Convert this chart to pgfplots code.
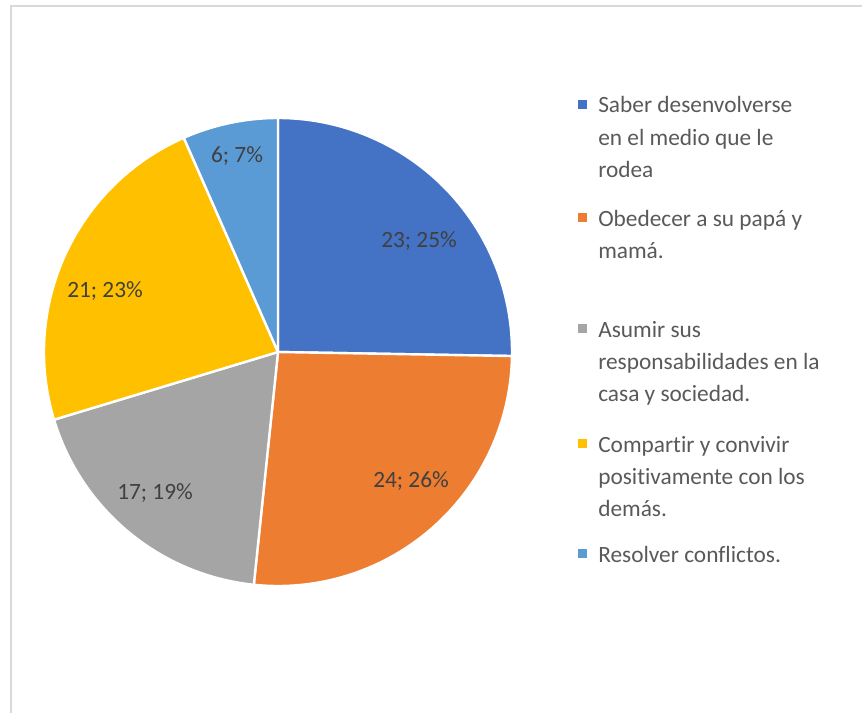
\documentclass[border=0pt]{standalone}
\usepackage{pgfplots}
\pgfplotsset{compat=1.18}
\usepackage{fontspec}
\setmainfont{Carlito}[Ligatures={NoCommon}]
\definecolor{cBlue}{HTML}{4472C4}
\definecolor{cOrange}{HTML}{ED7D31}
\definecolor{cGrey}{HTML}{A5A5A5}
\definecolor{cGold}{HTML}{FFC000}
\definecolor{cLight}{HTML}{5B9BD5}
\definecolor{cLab}{HTML}{404040}
\definecolor{cLeg}{HTML}{595959}
\definecolor{cFrame}{HTML}{D9D9D9}
\def\R{175.5pt}
% slice: colour, cumulative start, value (total 91)
\newcommand{\slice}[3]{%
  \filldraw[fill=#1, draw=white, line width=1.8pt, line join=round]
    (axis cs:278,352) -- ++({90-(#2/91)*360}:\R)
    arc[start angle={90-(#2/91)*360}, end angle={90-((#2+#3)/91)*360}, radius=\R] -- cycle;}
\newcommand{\lab}[3]{\node[anchor=base, text=cLab, font=\fontsize{17.5}{21}\selectfont, inner sep=0pt] at (axis cs:#1,#2) {#3};}
\newcommand{\legsq}[2]{\fill[#1] (axis cs:578,#2-13) rectangle (axis cs:587,#2-4);}
\newcommand{\legtx}[2]{\node[anchor=base west, text=cLeg, font=\fontsize{17.5}{21}\selectfont, inner sep=0pt] at (axis cs:598,#1) {#2};}
\begin{document}
\begin{tikzpicture}
\begin{axis}[
  scale only axis, width=646.5pt, height=534.75pt,
  xmin=0, xmax=862, ymin=0, ymax=713, y dir=reverse,
  hide axis, clip=false]
\coordinate (sw) at (axis cs:0,713);
\coordinate (ne) at (axis cs:862,0);
% frame
\draw[cFrame, line width=1.5pt] (axis cs:11,713) -- (axis cs:11,6) -- (axis cs:862,6);
% pie: values 23, 24, 17, 21, 6
\slice{cBlue}{0}{23}
\slice{cOrange}{23}{24}
\slice{cGrey}{47}{17}
\slice{cGold}{64}{21}
\slice{cLight}{85}{6}
% data labels
\lab{419}{247}{23; 25\%}
\lab{411}{487}{24; 26\%}
\lab{155}{499}{17; 19\%}
\lab{105}{297}{21; 23\%}
\lab{237}{162}{6; 7\%}
% legend
\legsq{cBlue}{113}
\legtx{113}{Saber desenvolverse}
\legtx{145}{en el medio que le}
\legtx{177}{rodea}
\legsq{cOrange}{226}
\legtx{226}{Obedecer a su papá y}
\legtx{258}{mamá.}
\legsq{cGrey}{337}
\legtx{337}{Asumir sus}
\legtx{369}{responsabilidades en la}
\legtx{401}{casa y sociedad.}
\legsq{cGold}{452}
\legtx{452}{Compartir y convivir}
\legtx{484}{positivamente con los}
\legtx{516}{demás.}
\legsq{cLight}{562}
\legtx{562}{Resolver conflictos.}
\end{axis}
\pgfresetboundingbox
\path (sw) rectangle (ne);
\end{tikzpicture}
\end{document}
